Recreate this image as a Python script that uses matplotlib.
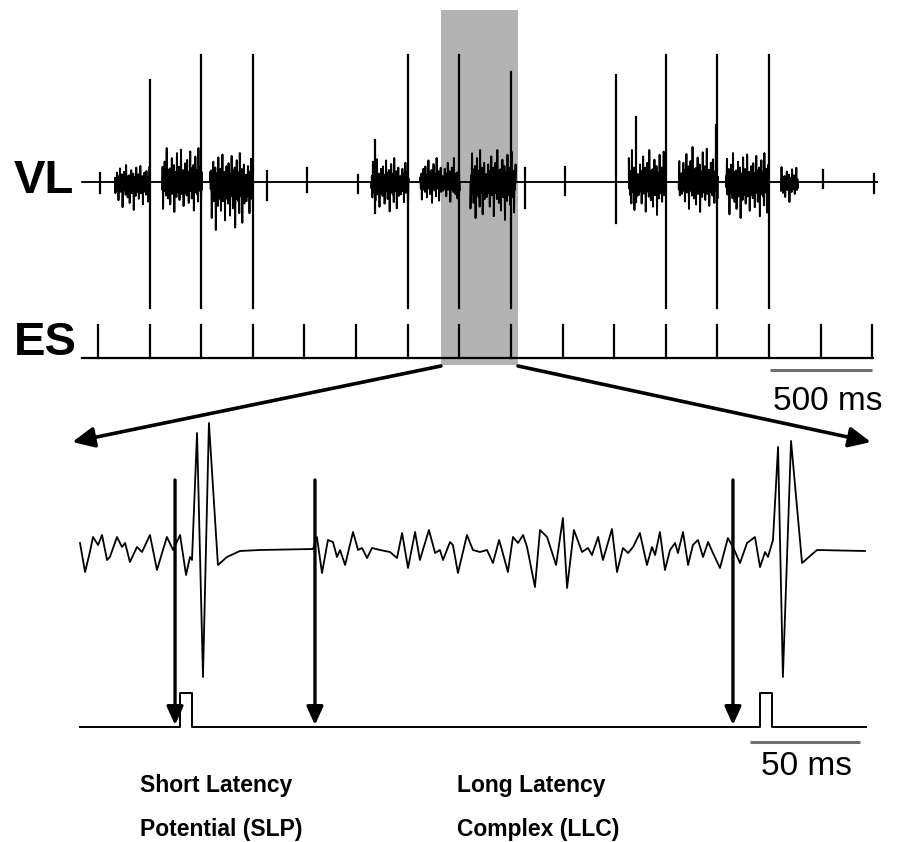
import numpy as np
import matplotlib
matplotlib.use('Agg')
import matplotlib.pyplot as plt
from matplotlib.patches import Rectangle, ConnectionPatch

# ---------------- data ----------------
# Top panel (time in ms)
es_times = [0, 253, 506, 759, 1012, 1265, 1518, 1771, 2024, 2277, 2530, 2783, 3036, 3289, 3542, 3795]
es_tick_height = 33

artifact_times = [253, 506, 759, 1518, 1771, 2024, 2783, 3036, 3289]
artifact_up = [102, 127, 127, 127, 127, 110, 127, 127, 127]
artifact_down = [126, 126, 126, 126, 126, 126, 126, 126, 126]

blip_times = [10, 830, 1026, 1276, 1358, 2091, 2288, 2538, 2636, 3030, 3554, 3805]
blip_up = [9, 11, 14, 7, 42, 14, 15, 107, 65, 57, 12, 8]
blip_down = [11, 18, 10, 11, 31, 26, 13, 41, 20, 8, 6, 11]

burst_start = [83, 314, 550, 1340, 1580, 1826, 2602, 2847, 3078, 3348]
burst_end = [255, 510, 760, 1522, 1772, 2047, 2783, 3039, 3289, 3431]
burst_up = [17, 34, 29, 24, 24, 32, 32, 35, 29, 15]
burst_down = [28, 30, 48, 31, 22, 38, 33, 30, 36, 20]

emg_texture = [0.25, -0.40, 0.15, -0.30, 0.55, -0.20, 0.35, -0.65, 0.20, -0.15, 0.80, -0.35, 0.30, -0.25, 0.45, -0.90,
               0.15, -0.30, 0.60, -0.20, 0.25, -0.45, 1.00, -0.30, 0.20, -0.55, 0.35, -0.15, 0.40, -0.75, 0.25, -0.20,
               0.70, -0.40, 0.15, -0.30, 0.50, -1.00, 0.30, -0.20, 0.25, -0.50, 0.85, -0.25, 0.20, -0.35, 0.45, -0.60,
               0.30, -0.15, 0.95, -0.40, 0.20, -0.30, 0.35, -0.80, 0.25, -0.20, 0.55, -0.35, 0.15, -0.45, 0.65, -0.25,
               0.30, -0.70, 0.20, -0.15, 0.90, -0.30, 0.40, -0.55, 0.15, -0.25, 0.50, -0.95, 0.25, -0.35, 0.75, -0.20,
               0.35, -0.40, 0.20, -0.65, 1.00, -0.30, 0.25, -0.15, 0.45, -0.85, 0.30, -0.25, 0.60, -0.45, 0.20, -0.35]

zoom_window = (1681, 2059)      # ms, highlighted in grey
scale_top = (3294, 3794)        # 500 ms bar

# Bottom panel (time in ms, amplitude arbitrary)
vl_t = [0.0, 2.3, 4.5, 5.9, 8.2, 10.0, 12.3, 13.6, 16.8, 19.1, 20.5, 22.7, 25.9, 28.2, 31.8, 35.0, 37.3, 39.5,
        42.3, 45.5, 48.2, 50.0, 50.9, 53.2, 55.9, 58.6, 62.7, 66.8, 72.7, 81.8, 105.9, 107.7, 110.0, 112.7,
        115.0, 116.8, 118.2, 120.5, 124.1, 126.4, 128.2, 130.5, 132.7, 136.4, 140.9, 144.1, 146.4, 149.1,
        152.3, 154.5, 158.6, 161.4, 163.6, 165.0, 168.2, 169.5, 171.8, 175.9, 178.6, 181.8, 185.0, 187.7,
        190.5, 191.8, 194.5, 196.8, 199.1, 201.4, 203.2, 206.8, 209.1, 212.3, 216.4, 219.5, 221.4, 224.5,
        228.2, 230.9, 232.7, 235.5, 237.7, 241.8, 244.1, 246.8, 249.1, 251.4, 254.5, 257.7, 260.0, 261.4,
        263.6, 265.9, 268.2, 270.5, 271.8, 274.1, 276.4, 278.6, 280.9, 283.2, 285.5, 287.7, 290.9, 294.5,
        296.8, 300.0, 303.2, 306.8, 309.1, 311.4, 312.7, 315.0, 317.3, 319.5, 323.2, 328.2, 335.0, 356.8]
vl_a = [7, -22, -2, 13, 5, 15, -10, -7, 13, 3, 7, -12, 3, -2, 15, -20, -3, 13,
        0, 15, -25, -7, -10, 117, -127, 127, -15, -7, -1, 0, 1, 13, -23, 10,
        8, -7, 0, -15, 18, 0, 2, -8, 2, 0, -2, -8, 17, -18,
        18, -10, 20, -3, 0, -10, 8, 5, -23, 15, 0, -2, 0, -13,
        10, 0, -22, 13, 7, 15, 3, -37, 20, 13, -15, 32, -38, 20,
        -2, 2, -5, 13, -10, 21, -22, 2, -3, 3, 17, -15, 3, -5,
        18, -20, 0, 7, -3, 18, -15, 5, 10, -7, 8, -3, -18, 12,
        3, -13, 7, 13, -17, -2, -7, 10, 103, -127, 109, -13, 0, -1]

stim_pulse_times = [45.5, 309.1]
stim_pulse_width = 5.4
stim_pulse_height = 34
stim_level = -177
stim_span = (0.0, 357.3)
arrow_times = [43.2, 106.8, 296.8]
scale_bot = (304.5, 354.5)      # 50 ms bar

# ---------------- figure ----------------
W, H = 899, 842
fig = plt.figure(figsize=(W / 100, H / 100), dpi=100)

ov = fig.add_axes([0, 0, 1, 1])
ov.set_xlim(0, W); ov.set_ylim(H, 0); ov.axis('off')

PX_TOP = 0.204
top = fig.add_axes([0, (H - 380) / H, 1, 380 / H], facecolor='none')
top.set_xlim(-98 / PX_TOP, (W - 98) / PX_TOP); top.set_ylim(182 - 380, 182); top.axis('off')

PX_BOT = 2.2
bot = fig.add_axes([0, 0, 1, (H - 380) / H], facecolor='none')
bot.set_xlim(-80 / PX_BOT, (W - 80) / PX_BOT); bot.set_ylim(550 - H, 550 - 380); bot.axis('off')

# grey highlight
top.add_patch(Rectangle((zoom_window[0], -183), zoom_window[1] - zoom_window[0], 355,
                        facecolor='#b3b3b3', edgecolor='none', zorder=0))

# VL trace
tt = [-78.0]; aa = [0.0]
for k, (s, e, up, dn) in enumerate(zip(burst_start, burst_end, burst_up, burst_down)):
    n = int((e - s) * PX_TOP * 2.0)
    ts = np.linspace(s, e, n)
    tt.append(s); aa.append(0.0)
    for i, t in enumerate(ts):
        v = emg_texture[(k * 13 + i) % len(emg_texture)]
        tt.append(t); aa.append(v * (up if v > 0 else dn))
    tt.append(e); aa.append(0.0)
tt.append(3819.0); aa.append(0.0)
top.plot(tt, aa, color='black', lw=1.35, zorder=2)

for t, u, d in zip(blip_times, blip_up, blip_down):
    top.plot([t, t], [-d, u], color='black', lw=1.6, zorder=2)
for t, u, d in zip(artifact_times, artifact_up, artifact_down):
    top.plot([t, t], [-d, u], color='black', lw=1.6, zorder=2)

# ES trace
es_base = -176
top.plot([-78, 3800], [es_base, es_base], color='black', lw=1.6, zorder=2)
for t in es_times:
    top.plot([t, t], [es_base, es_base + es_tick_height], color='black', lw=1.6, zorder=2)

# 500 ms bar
top.plot(scale_top, [-188, -188], color='#707070', lw=2.2, solid_capstyle='butt')

# Bottom VL trace
bot.plot(vl_t, vl_a, color='black', lw=1.3, zorder=2)

# Bottom stimulus line
st = [stim_span[0]]; sa = [stim_level]
for p in stim_pulse_times:
    st += [p, p, p + stim_pulse_width, p + stim_pulse_width]
    sa += [stim_level, stim_level + stim_pulse_height, stim_level + stim_pulse_height, stim_level]
st.append(stim_span[1]); sa.append(stim_level)
bot.plot(st, sa, color='black', lw=1.4, zorder=2)

for t in arrow_times:
    bot.annotate('', xy=(t, stim_level + 2), xytext=(t, 70),
                 arrowprops=dict(arrowstyle='-|>,head_length=0.55,head_width=0.25',
                                 color='black', lw=2.4, mutation_scale=20, shrinkA=0, shrinkB=0))

bot.plot(scale_bot, [-192, -192], color='#707070', lw=2.2, solid_capstyle='butt')

# connecting arrows
for xa, xb in [(zoom_window[0], -3.5), (zoom_window[1], 359.5)]:
    cp = ConnectionPatch(xyA=(xa, -184), coordsA=top.transData,
                         xyB=(xb, 108), coordsB=bot.transData,
                         arrowstyle='-|>,head_length=0.6,head_width=0.28',
                         color='black', lw=2.6, mutation_scale=22, shrinkA=0, shrinkB=0)
    fig.add_artist(cp)

# texts
big = dict(family=['Liberation Sans', 'DejaVu Sans'], fontweight='bold', fontsize=34, color='black')
ov.text(14, 193, 'VL', va='baseline', ha='left', **big)
ov.text(14, 355, 'ES', va='baseline', ha='left', **big)

reg = dict(family=['Liberation Sans', 'DejaVu Sans'], fontsize=24, color='black')
ov.text(773, 410, '500 ms', va='baseline', ha='left', **reg)
ov.text(761, 775, '50 ms', va='baseline', ha='left', **reg)

lab = dict(family=['Liberation Sans', 'DejaVu Sans'], fontweight='bold',
           fontsize=16.5, color='black')
ov.text(140, 792, 'Short Latency', va='baseline', ha='left', **lab)
ov.text(140, 836, 'Potential (SLP)', va='baseline', ha='left', **lab)
ov.text(457, 792, 'Long Latency', va='baseline', ha='left', **lab)
ov.text(457, 836, 'Complex (LLC)', va='baseline', ha='left', **lab)

fig.savefig('out.png', dpi=100)
